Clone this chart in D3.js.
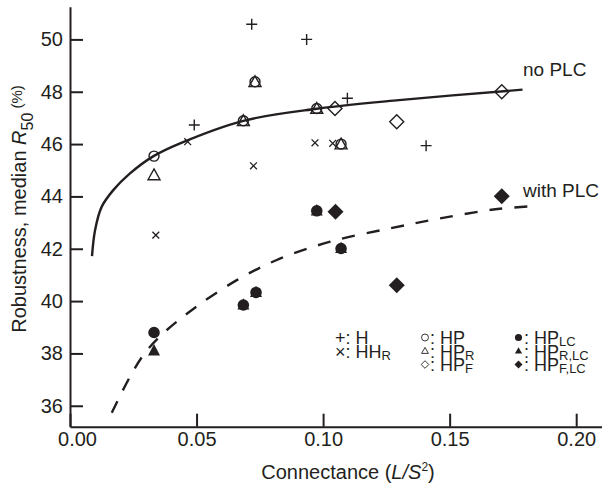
<!DOCTYPE html>
<html lang="en">
<head>
<meta charset="UTF-8" />
<title>Robustness vs connectance</title>
<script src="https://d3js.org/d3.v7.min.js"></script>
<style>
  body { margin: 0; background: #fff; }
  svg { display: block; font-family: "Liberation Sans", Arial, sans-serif; }
  .axis text { font-size: 20px; fill: #231f20; font-family: "Liberation Sans", Arial, sans-serif; }
  .axis path, .axis line { stroke: #231f20; stroke-width: 2; }
  .lbl { fill: #231f20; }
</style>
</head>
<body>
<svg id="chart" width="602" height="483"></svg>
<script>
// connectance (L/S^2) and median R50 (%)
const H_x   = [0.0491, 0.0718, 0.0935, 0.1096, 0.1407];
const H_y   = [46.73, 50.58, 50.00, 47.75, 45.94];
const HHR_x = [0.0339, 0.0465, 0.0725, 0.0968, 0.1038];
const HHR_y = [42.52, 46.09, 45.17, 46.05, 46.03];
const HP_x  = [0.0332, 0.0685, 0.0731, 0.0975, 0.1071];
const HP_y  = [45.54, 46.89, 48.38, 47.36, 46.00];
const HPR_x = [0.0332, 0.0685, 0.0731, 0.0975, 0.1071];
const HPR_y = [44.82, 46.89, 48.38, 47.36, 46.00];
const HPF_x = [0.1047, 0.1291, 0.1706];
const HPF_y = [47.36, 46.85, 48.00];
const HPLC_x   = [0.0332, 0.0685, 0.0735, 0.0975, 0.1071];
const HPLC_y   = [38.80, 39.85, 40.33, 43.45, 42.01];
const HPRLC_x  = [0.0332, 0.0685, 0.0735, 0.0975, 0.1071];
const HPRLC_y  = [38.10, 39.85, 40.33, 43.45, 42.01];
const HPFLC_x  = [0.1049, 0.1291, 0.1706];
const HPFLC_y  = [43.41, 40.61, 44.01];

// fitted curves
const noPLC_x   = [0.0087, 0.0099, 0.0125, 0.0171, 0.0237, 0.0330, 0.0435, 0.0685, 0.0975, 0.1300, 0.1788];
const noPLC_y   = [41.72, 42.71, 43.60, 44.24, 44.88, 45.54, 46.03, 46.89, 47.35, 47.68, 48.08];
const withPLC_x = [0.0165, 0.0237, 0.0290, 0.0356, 0.0487, 0.0659, 0.0817, 0.1028, 0.1265, 0.1462, 0.1673, 0.1812];
const withPLC_y = [35.73, 37.11, 37.94, 38.66, 39.70, 40.80, 41.57, 42.27, 42.78, 43.16, 43.50, 43.62];

const xTicks = [0, 0.05, 0.10, 0.15, 0.20];
const yTicks = [36, 38, 40, 42, 44, 46, 48, 50];

const ink = "#231f20";
const svg = d3.select("#chart");

const x = d3.scaleLinear().domain([0, 0.21]).range([70, 601.5]);
const y = d3.scaleLinear().domain([35.2, 51.25]).range([426.7, 6.7]);

// axes, ticks pointing inward
const xAxis = svg.append("g").attr("class", "axis")
  .attr("transform", "translate(0,426.7)")
  .call(d3.axisBottom(x).tickValues(xTicks).tickFormat(d3.format(".2f"))
    .tickSizeInner(-13).tickSizeOuter(0).tickPadding(5));
xAxis.selectAll(".tick text").filter(d => d === 0).attr("dx", 7);

svg.append("g").attr("class", "axis")
  .attr("transform", "translate(70,0)")
  .call(d3.axisLeft(y).tickValues(yTicks).tickSizeInner(-13).tickSizeOuter(0).tickPadding(7));

// fitted curves
const line = d3.line().x(d => x(d[0])).y(d => y(d[1])).curve(d3.curveCatmullRom.alpha(0.5));
svg.append("path")
  .attr("d", line(d3.zip(noPLC_x, noPLC_y)))
  .attr("fill", "none").attr("stroke", ink).attr("stroke-width", 2.4);
svg.append("path")
  .attr("d", line(d3.zip(withPLC_x, withPLC_y)))
  .attr("fill", "none").attr("stroke", ink).attr("stroke-width", 2.4)
  .attr("stroke-dasharray", "13,12");

// marker shapes
const shapes = {
  plus:     { d: "M-5.5,0H5.5M0,-5.5V5.5", fill: "none", sw: 1.4 },
  cross:    { d: "M-3.4,-3.4L3.4,3.4M-3.4,3.4L3.4,-3.4", fill: "none", sw: 1.3 },
  circle:   { d: "M5,0A5,5 0 1,1 -5,0A5,5 0 1,1 5,0Z", fill: "none", sw: 1.4 },
  triangle: { d: "M0,-6L6,4.8L-6,4.8Z", fill: "none", sw: 1.4 },
  diamond:  { d: "M0,-7L7,0L0,7L-7,0Z", fill: "none", sw: 1.4 },
  dot:      { d: "M5.8,0A5.8,5.8 0 1,1 -5.8,0A5.8,5.8 0 1,1 5.8,0Z", fill: ink, sw: 0 },
  tri:      { d: "M0,-6.8L6,4.6L-6,4.6Z", fill: ink, sw: 0 },
  dia:      { d: "M0,-8L8,0L0,8L-8,0Z", fill: ink, sw: 0 }
};

function drawSeries(xs, ys, shape) {
  const s = shapes[shape];
  svg.append("g").selectAll("path")
    .data(d3.zip(xs, ys))
    .join("path")
    .attr("transform", d => `translate(${x(d[0])},${y(d[1])})`)
    .attr("d", s.d)
    .attr("fill", s.fill)
    .attr("stroke", ink)
    .attr("stroke-width", s.sw);
}

drawSeries(H_x, H_y, "plus");
drawSeries(HHR_x, HHR_y, "cross");
drawSeries(HP_x, HP_y, "circle");
drawSeries(HPR_x, HPR_y, "triangle");
drawSeries(HPF_x, HPF_y, "diamond");
drawSeries(HPLC_x, HPLC_y, "dot");
drawSeries(HPRLC_x, HPRLC_y, "tri");
drawSeries(HPFLC_x, HPFLC_y, "dia");

// curve labels
svg.append("text").attr("class", "lbl").attr("x", 523).attr("y", 76)
  .style("font-size", "19px").text("no PLC");
svg.append("text").attr("class", "lbl").attr("x", 523).attr("y", 197)
  .style("font-size", "19px").text("with PLC");

// axis titles
const xt = svg.append("text").attr("class", "lbl")
  .attr("x", 348).attr("y", 479).attr("text-anchor", "middle")
  .style("font-size", "20px");
xt.append("tspan").text("Connectance (");
xt.append("tspan").style("font-style", "italic").text("L/S");
xt.append("tspan").style("font-size", "12px").attr("dy", -8).text("2");
xt.append("tspan").attr("dy", 8).text(")");

const yt = svg.append("text").attr("class", "lbl")
  .attr("transform", "translate(26,209) rotate(-90)")
  .attr("text-anchor", "middle")
  .style("font-size", "20px");
yt.append("tspan").text("Robustness, median ");
yt.append("tspan").style("font-style", "italic").text("R");
yt.append("tspan").style("font-size", "16px").attr("dy", 7).text("50");
yt.append("tspan").style("font-size", "15px").attr("dy", -11).text(" (%)");

// legend
const legendRows = [344, 357.5, 371];
const legend = svg.append("g").style("font-size", "18px");

function legendText(x0, row, main, sub) {
  const t = legend.append("text").attr("class", "lbl").attr("x", x0).attr("y", legendRows[row]);
  t.append("tspan").text(main);
  if (sub) t.append("tspan").style("font-size", "13px").attr("dy", 2).text(sub);
}
function legendSymbol(cx, row, d, filled) {
  legend.append("path")
    .attr("transform", `translate(${cx},${legendRows[row] - 6.5})`)
    .attr("d", d)
    .attr("fill", filled ? ink : "none")
    .attr("stroke", filled ? "none" : ink)
    .attr("stroke-width", 0.9);
}

legendText(335, 0, "+: H");
legendText(335, 1, "\u00d7: HH", "R");

legendSymbol(425, 0, d3.symbol(d3.symbolCircle, 38)(), false);
legendSymbol(425, 1, "M0,-3.6L3.4,2.4L-3.4,2.4Z", false);
legendSymbol(425, 2, "M0,-3.8L3.8,0L0,3.8L-3.8,0Z", false);
legendText(430, 0, ": HP");
legendText(430, 1, ": HP", "R");
legendText(430, 2, ": HP", "F");

legendSymbol(518.5, 0, d3.symbol(d3.symbolCircle, 40)(), true);
legendSymbol(518.5, 1, "M0,-3.8L3.6,2.6L-3.6,2.6Z", true);
legendSymbol(518.5, 2, "M0,-4L4,0L0,4L-4,0Z", true);
legendText(524, 0, ": HP", "LC");
legendText(524, 1, ": HP", "R,LC");
legendText(524, 2, ": HP", "F,LC");
</script>
</body>
</html>
